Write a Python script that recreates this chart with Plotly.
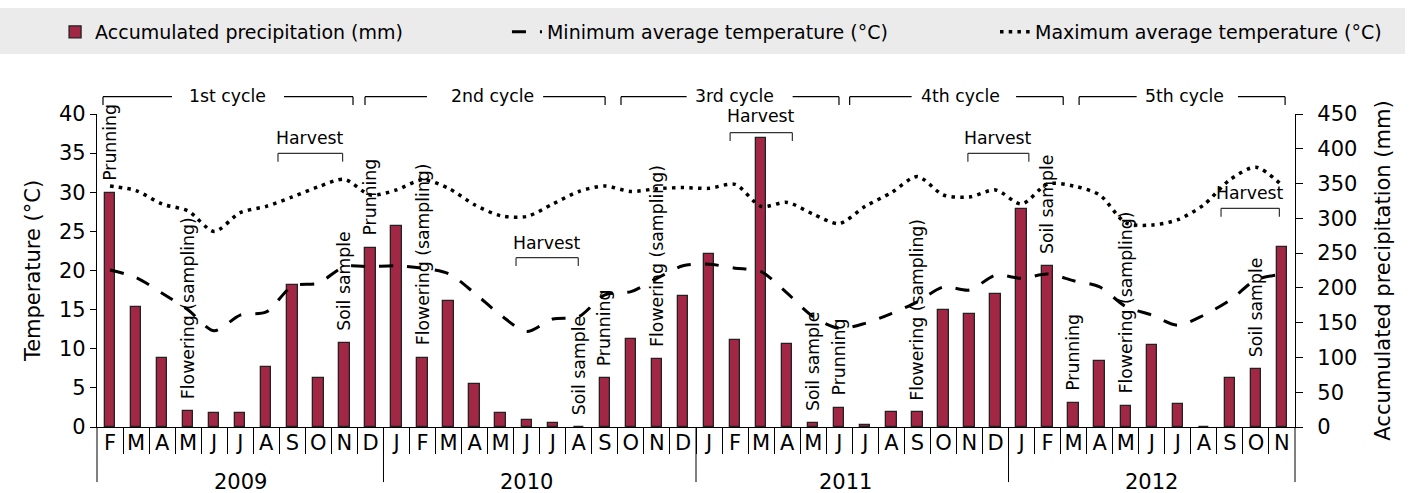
import plotly.graph_objects as go

# ---------------- data ----------------
months = ["F", "M", "A", "M", "J", "J", "A", "S", "O", "N", "D",
          "J", "F", "M", "A", "M", "J", "J", "A", "S", "O", "N", "D",
          "J", "F", "M", "A", "M", "J", "J", "A", "S", "O", "N", "D",
          "J", "F", "M", "A", "M", "J", "J", "A", "S", "O", "N"]

precip = [336, 173, 99.6, 23, 20.6, 20.6, 85.8, 204, 70, 121, 258,
          289, 99.6, 181.6, 61.8, 20.6, 10, 5.3, 0, 70.5, 126, 97.8, 188,
          249, 125, 415, 120, 5.3, 27.8, 2.4, 21, 21, 168, 162, 191.7,
          313, 231.5, 35, 95.3, 30.6, 118, 33.5, 0, 70.9, 83.8, 259]

tmin = [20.06, 19.1, 17.1, 14.95, 12.3, 14.3, 14.7, 18.0, 18.4, 20.5, 20.5,
        20.6, 20.3, 19.6, 17.1, 14.3, 12.2, 13.8, 14.1, 16.9, 17.3, 19.0, 20.6,
        20.8, 20.3, 19.85, 17.1, 14.1, 12.6, 13.25, 14.5, 16.0, 17.9, 17.5, 19.4,
        19.0, 19.55, 18.7, 17.9, 15.4, 14.3, 13.0, 14.3, 16.2, 18.8, 19.5]

tmax = [30.8, 30.2, 28.5, 27.6, 25.0, 27.4, 28.2, 29.4, 30.7, 31.65, 29.65,
        30.3, 31.6, 30.5, 28.4, 27.0, 26.9, 28.5, 30.1, 30.8, 30.1, 30.45, 30.6,
        30.5, 31.0, 28.2, 28.7, 27.2, 26.0, 28.2, 29.95, 32.0, 29.65, 29.4, 30.3,
        28.5, 31.05, 30.8, 29.65, 26.1, 25.8, 26.5, 28.4, 31.6, 33.2, 30.9]

years = ["2009", "2010", "2011", "2012"]
year_label_x = [5, 16, 28.25, 40]
year_bounds = [-0.5, 10.5, 22.5, 34.5, 45.5]

# events: (month index, label)
events = [(0, "Prunning"), (3, "Flowering (sampling)"), (9, "Soil sample"),
          (10, "Prunning"), (12, "Flowering (sampling)"), (18, "Soil sample"),
          (19, "Prunning"), (21, "Flowering (sampling)"), (27, "Soil sample"),
          (28, "Prunning"), (31, "Flowering (sampling)"), (36, "Soil sample"),
          (37, "Prunning"), (39, "Flowering (sampling)"), (44, "Soil sample")]

# cycle brackets: label, x0, gap-left, text-x, gap-right, x1
cycles = [("1st cycle", -0.27, 2.38, 4.51, 6.68, 9.33),
          ("2nd cycle", 9.79, 12.17, 14.67, 16.63, 19.01),
          ("3rd cycle", 19.62, 22.14, 23.96, 26.21, 27.99),
          ("4th cycle", 28.40, 30.78, 32.64, 34.79, 36.60),
          ("5th cycle", 37.21, 39.42, 41.26, 43.31, 45.12)]

# harvest brackets: x0, x1, line y (degC), text y (degC)
harvests = [(6.45, 8.93, 34.98, 36.93),
            (15.59, 17.98, 21.64, 23.55),
            (23.81, 26.20, 37.61, 39.74),
            (32.94, 35.28, 34.98, 36.90),
            (42.66, 44.90, 27.95, 29.87)]

FONT = "DejaVu Sans"
BAR = "#A12744"
n = len(months)
xs = list(range(n))

fig = go.Figure()
fig.add_trace(go.Bar(x=xs, y=precip, yaxis="y", width=0.4, showlegend=True,
                     marker=dict(color=BAR, line=dict(color="#222222", width=1.3)),
                     name="Accumulated precipitation (mm)", legend="legend"))
fig.add_trace(go.Scatter(x=xs, y=tmin, yaxis="y2", mode="lines", showlegend=True,
                         line=dict(color="black", width=3, dash="14px,14px", shape="spline", smoothing=0.8),
                         name="Minimum average temperature (°C)", legend="legend2"))
fig.add_trace(go.Scatter(x=xs, y=tmax, yaxis="y2", mode="lines", showlegend=True,
                         line=dict(color="black", width=3.5, dash="3.5px,5.2px", shape="spline", smoothing=0.8),
                         name="Maximum average temperature (°C)", legend="legend3"))

shapes = []
annotations = []

# gray legend band
shapes.append(dict(type="rect", xref="paper", yref="paper", x0=-0.081, x1=1.0918,
                   y0=1.1917, y1=1.3387, fillcolor="#ebebeb", line=dict(width=0), layer="below"))

# year separators
for b in year_bounds:
    px = (b + 0.5) / n
    shapes.append(dict(type="line", xref="paper", yref="paper", x0=px, x1=px, y0=0, y1=-0.176,
                       line=dict(color="black", width=1)))
for lab, xx in zip(years, year_label_x):
    annotations.append(dict(x=xx, y=-0.1757, xref="x", yref="paper", text=lab, showarrow=False,
                            font=dict(size=21, family=FONT, color="black"), yanchor="middle"))

# event labels
for idx, lab in events:
    annotations.append(dict(x=idx, y=precip[idx], xref="x", yref="y", text=lab, showarrow=False,
                            textangle=-90, yanchor="bottom", xanchor="center", yshift=10,
                            font=dict(size=17.3, family=FONT, color="black")))

# cycle brackets
yl = 1.0553
yh = 1.0288
for lab, x0, g0, tx, g1, x1 in cycles:
    shapes.append(dict(type="line", xref="x", yref="paper", x0=x0, x1=g0, y0=yl, y1=yl,
                       line=dict(color="black", width=1.2)))
    shapes.append(dict(type="line", xref="x", yref="paper", x0=g1, x1=x1, y0=yl, y1=yl,
                       line=dict(color="black", width=1.2)))
    shapes.append(dict(type="line", xref="x", yref="paper", x0=x0, x1=x0, y0=yl, y1=yh,
                       line=dict(color="black", width=1.2)))
    shapes.append(dict(type="line", xref="x", yref="paper", x0=x1, x1=x1, y0=yl, y1=yh,
                       line=dict(color="black", width=1.2)))
    annotations.append(dict(x=tx, y=1.0575, xref="x", yref="paper", text=lab, showarrow=False,
                            font=dict(size=17.3, family=FONT, color="black"), yanchor="middle"))

# harvest brackets
for x0, x1, ly, ty in harvests:
    hook = ly - 1.07
    shapes.append(dict(type="line", xref="x", yref="y2", x0=x0, x1=x1, y0=ly, y1=ly,
                       line=dict(color="#333333", width=1.2)))
    shapes.append(dict(type="line", xref="x", yref="y2", x0=x0, x1=x0, y0=ly, y1=hook,
                       line=dict(color="#333333", width=1.2)))
    shapes.append(dict(type="line", xref="x", yref="y2", x0=x1, x1=x1, y0=ly, y1=hook,
                       line=dict(color="#333333", width=1.2)))
    annotations.append(dict(x=(x0 + x1) / 2, y=ty, xref="x", yref="y2", text="Harvest", showarrow=False,
                            font=dict(size=17.3, family=FONT, color="black"), yanchor="middle"))

legend_common = dict(orientation="h", yanchor="middle", y=1.262, xanchor="left", visible=True,
                     bgcolor="rgba(0,0,0,0)", font=dict(size=19, family=FONT, color="black"))

fig.update_layout(
    width=1416, height=493, autosize=False,
    showlegend=True,
    margin=dict(l=97, r=121, t=114, b=66, pad=0),
    paper_bgcolor="white", plot_bgcolor="white",
    font=dict(family=FONT, color="black"),
    bargap=0,
    xaxis=dict(range=[-0.5, 45.5], tickmode="array", tickvals=xs, ticktext=months,
               ticks="", showline=True, linecolor="black", linewidth=1.3, showgrid=False,
               zeroline=False, tickfont=dict(size=21, family=FONT), ticklabelstandoff=-3,
               minor=dict(tickmode="array", tickvals=[i + 0.5 for i in range(n - 1)],
                          ticks="outside", ticklen=26, tickcolor="black", tickwidth=1, showgrid=False)),
    yaxis=dict(range=[0, 450], side="right", tickmode="array", tickvals=list(range(0, 451, 50)),
               ticks="outside", ticklen=7, tickcolor="black", showline=True, linecolor="black",
               linewidth=1.3, showgrid=False, zeroline=False, tickfont=dict(size=21, family=FONT),
               ticklabelstandoff=10,
               title=dict(text="Accumulated precipitation (mm)", font=dict(size=21, family=FONT), standoff=18)),
    yaxis2=dict(range=[0, 40], side="left", overlaying="y", tickmode="array", tickvals=list(range(0, 41, 5)),
                ticks="outside", ticklen=6, tickcolor="black", showline=True, linecolor="black",
                linewidth=1.3, showgrid=False, zeroline=False, tickfont=dict(size=21, family=FONT),
                title=dict(text="Temperature (°C)", font=dict(size=21, family=FONT), standoff=12)),
    legend=dict(x=-0.035, **legend_common),
    legend2=dict(x=0.3422, **legend_common),
    legend3=dict(x=0.7496, **legend_common),
    shapes=shapes,
    annotations=annotations,
)

fig.write_html("out.html", config={"displayModeBar": False},
               post_script="document.body.style.margin='0px';document.body.style.overflow='hidden';")
